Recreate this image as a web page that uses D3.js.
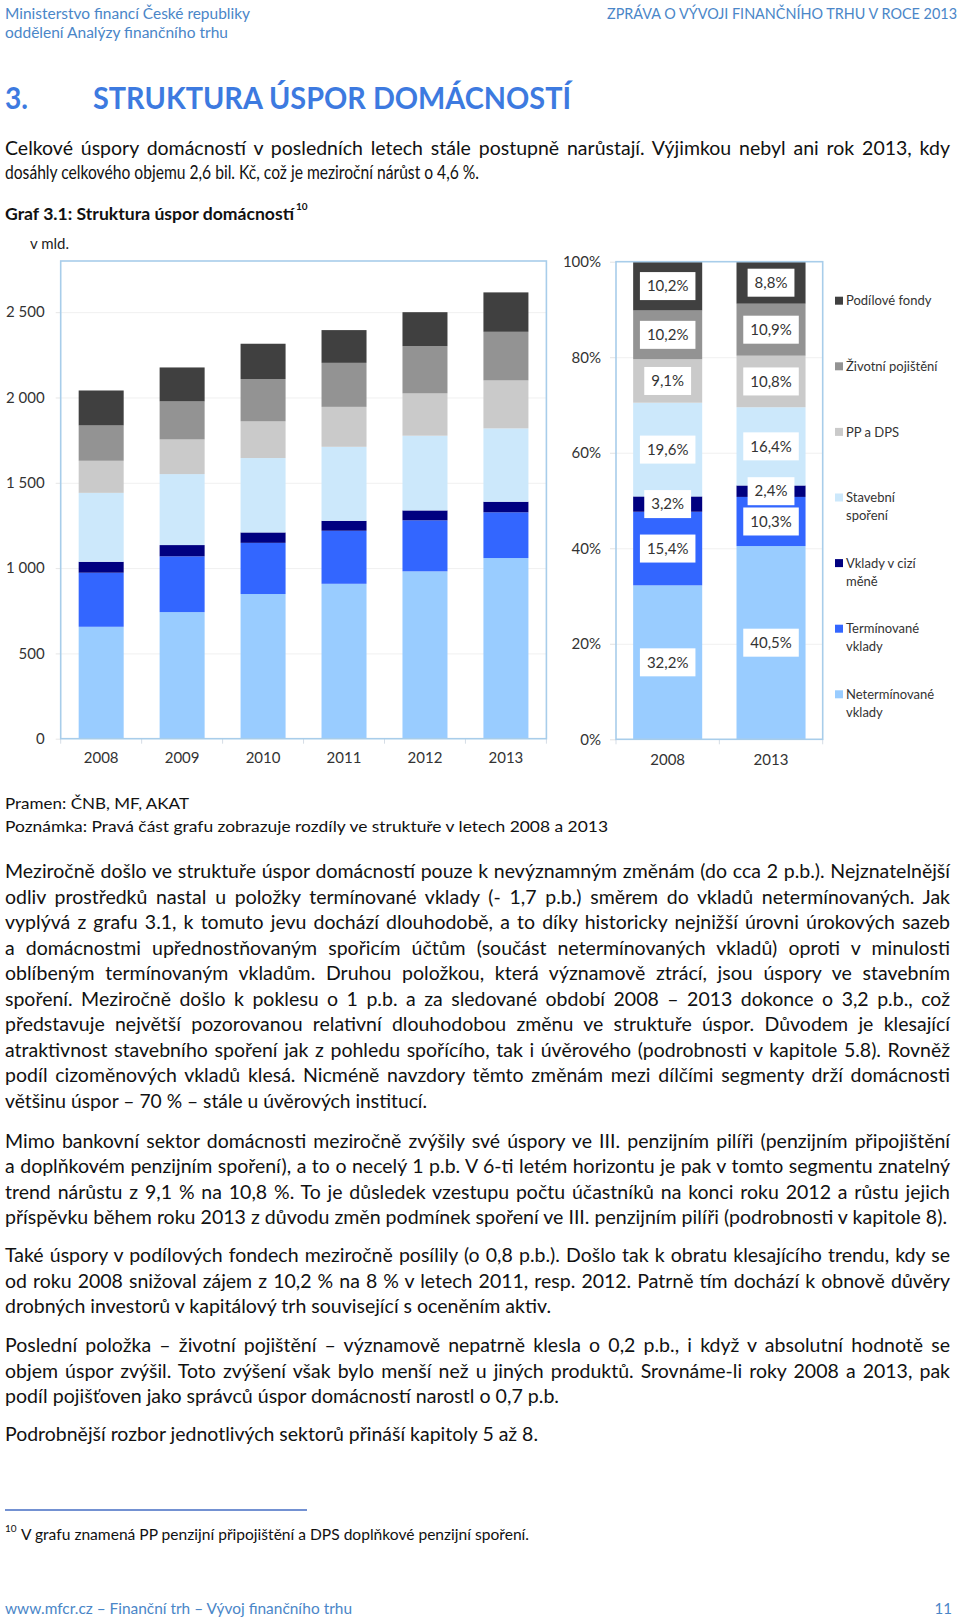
<!DOCTYPE html>
<html><head><meta charset="utf-8">
<script src="https://cdn.jsdelivr.net/npm/d3@7"></script>
<style>body{margin:0;background:#fff}svg{display:block}</style>
</head><body><svg id="page" width="960" height="1621"></svg>
<script>
// ---------- DATA ----------
const years = ["2008","2009","2010","2011","2012","2013"];
const seriesKeys = ["Netermínované vklady","Termínované vklady","Vklady v cizí měně","Stavební spoření","PP a DPS","Životní pojištění","Podílové fondy"];
const netermVklady = [656, 742, 848, 908, 981, 1059];
const terminVklady = [317, 327, 300, 311, 299, 268];
const ciziMena     = [64, 66, 61, 58, 58, 62];
const stavebni     = [404, 416, 436, 434, 438, 430];
const ppDps        = [188, 203, 215, 234, 248, 281];
const zivotni      = [207, 223, 248, 258, 277, 285];
const podilove     = [205, 199, 207, 192, 199, 231];
const shareYears = ["2008","2013"];
const share2008 = [32.2, 15.4, 3.2, 19.6, 9.1, 10.2, 10.2];
const share2013 = [40.5, 10.3, 2.4, 16.4, 10.8, 10.9, 8.8];
const yTicks = [0, 500, 1000, 1500, 2000, 2500];
const pctTicks = [0, 20, 40, 60, 80, 100];
const legendLabels = [["Podílové fondy"],["Životní pojištění"],["PP a DPS"],["Stavební","spoření"],["Vklady v cizí","měně"],["Termínované","vklady"],["Netermínované","vklady"]];
const colors = ["#99ccff","#3366ff","#000080","#cce8fb","#cacaca","#939393","#404040"];

const headerLeft = ["Ministerstvo financí České republiky","oddělení Analýzy finančního trhu"];
const headerRight = "ZPRÁVA O VÝVOJI FINANČNÍHO TRHU V ROCE 2013";
const titleNum = "3.";
const titleText = "STRUKTURA ÚSPOR DOMÁCNOSTÍ";
const intro = ["Celkové úspory domácností v posledních letech stále postupně narůstají. Výjimkou nebyl ani rok 2013, kdy",
"dosáhly celkového objemu 2,6 bil. Kč, což je meziroční nárůst o 4,6 %."];
const chartTitle = "Graf 3.1: Struktura úspor domácností";
const unitLabel = "v mld.";
const sourceLines = ["Pramen: ČNB, MF, AKAT","Poznámka: Pravá část grafu zobrazuje rozdíly ve struktuře v letech 2008 a 2013"];
const paragraphs = [
["Meziročně došlo ve struktuře úspor domácností pouze k nevýznamným změnám (do cca 2 p.b.). Nejznatelnější",
"odliv prostředků nastal u položky termínované vklady (- 1,7 p.b.) směrem do vkladů netermínovaných. Jak",
"vyplývá z grafu 3.1, k tomuto jevu dochází dlouhodobě, a to díky historicky nejnižší úrovni úrokových sazeb",
"a domácnostmi upřednostňovaným spořicím účtům (součást netermínovaných vkladů) oproti v minulosti",
"oblíbeným termínovaným vkladům. Druhou položkou, která významově ztrácí, jsou úspory ve stavebním",
"spoření. Meziročně došlo k poklesu o 1 p.b. a za sledované období 2008 – 2013 dokonce o 3,2 p.b., což",
"představuje největší pozorovanou relativní dlouhodobou změnu ve struktuře úspor. Důvodem je klesající",
"atraktivnost stavebního spoření jak z pohledu spořícího, tak i úvěrového (podrobnosti v kapitole 5.8). Rovněž",
"podíl cizoměnových vkladů klesá. Nicméně navzdory těmto změnám mezi dílčími segmenty drží domácnosti",
"většinu úspor – 70 % – stále u úvěrových institucí."],
["Mimo bankovní sektor domácnosti meziročně zvýšily své úspory ve III. penzijním pilíři (penzijním připojištění",
"a doplňkovém penzijním spoření), a to o necelý 1 p.b. V 6-ti letém horizontu je pak v tomto segmentu znatelný",
"trend nárůstu z 9,1 % na 10,8 %. To je důsledek vzestupu počtu účastníků na konci roku 2012 a růstu jejich",
"příspěvku během roku 2013 z důvodu změn podmínek spoření ve III. penzijním pilíři (podrobnosti v kapitole 8)."],
["Také úspory v podílových fondech meziročně posílily (o 0,8 p.b.). Došlo tak k obratu klesajícího trendu, kdy se",
"od roku 2008 snižoval zájem z 10,2 % na 8 % v letech 2011, resp. 2012. Patrně tím dochází k obnově důvěry",
"drobných investorů v kapitálový trh související s oceněním aktiv."],
["Poslední položka – životní pojištění – významově nepatrně klesla o 0,2 p.b., i když v absolutní hodnotě se",
"objem úspor zvýšil. Toto zvýšení však bylo menší než u jiných produktů. Srovnáme-li roky 2008 a 2013, pak",
"podíl pojišťoven jako správců úspor domácností narostl o 0,7 p.b."],
["Podrobnější rozbor jednotlivých sektorů přináší kapitoly 5 až 8."]
];
const footnoteMark = "10";
const footnoteText = "V grafu znamená PP penzijní připojištění a DPS doplňkové penzijní spoření.";
const footerLeft = "www.mfcr.cz – Finanční trh – Vývoj finančního trhu";
const footerRight = "11";

// ---------- PAGE ----------
const svg = d3.select("#page");
svg.append("rect").attr("width",960).attr("height",1621).attr("fill","#fff");
const FONT = "Lato, 'Open Sans', sans-serif";

function txt(s, x, cy, fs, o = {}) {
  const t = svg.append("text")
    .attr("x", x).attr("y", cy + fs * 0.35)
    .attr("font-family", FONT).attr("font-size", fs)
    .attr("font-weight", o.weight || "normal")
    .attr("fill", o.fill || "#111")
    .attr("text-anchor", o.anchor || "start")
    .text(s);
  if (o.w) t.attr("textLength", o.w).attr("lengthAdjust", "spacingAndGlyphs");
  return t;
}
// justified line: word spacing fills the measure; compress only if too long
function just(s, x, cy, fs, width) {
  const t = txt(s, x, cy, fs);
  const w = t.node().getComputedTextLength();
  const n = (s.match(/ /g) || []).length;
  if (w < width && n > 0) t.attr("word-spacing", (width - w) / n);
  else if (w > width) t.attr("textLength", width).attr("lengthAdjust", "spacingAndGlyphs");
  return t;
}

const headBlue = "#4a86c8";
txt(headerLeft[0], 5, 13.5, 14.5, {fill: headBlue, w: 245});
txt(headerLeft[1], 5, 33, 14.5, {fill: headBlue, w: 223});
txt(headerRight, 957, 13.5, 14.5, {fill: headBlue, anchor: "end", w: 350});

const titleBlue = "#3d7ae0";
txt(titleNum, 5, 98, 31, {fill: titleBlue, weight: "bold", w: 23});
txt(titleText, 93, 98, 31, {fill: titleBlue, weight: "bold", w: 478});

const JW = 945; // justified width
const BFS = 19.5;
just(intro[0], 5, 147.8, BFS, JW);
txt(intro[1], 5, 172.6, BFS, {w: 474});

txt(chartTitle, 5, 214, 17, {weight: "bold", w: 289});
txt(footnoteMark, 296, 206, 10, {weight: "bold"});
txt(unitLabel, 30, 244, 15, {fill: "#222"});

txt(sourceLines[0], 5, 803, 16, {w: 184});
txt(sourceLines[1], 5, 826.7, 16, {w: 603});

// paragraphs
const paraStarts = [871.2, 1140.9, 1255.6, 1345.5, 1434.4];
const lastWidths = [422, 942, 546, 554, 533];
paragraphs.forEach((p, pi) => {
  p.forEach((l, li) => {
    const last = li === p.length - 1;
    const cy = paraStarts[pi] + li * 25.5;
    if (last) txt(l, 5, cy, BFS, {w: lastWidths[pi]});
    else just(l, 5, cy, BFS, JW);
  });
});

svg.append("line").attr("x1",5).attr("x2",307).attr("y1",1510).attr("y2",1510)
  .attr("stroke","#7391d2").attr("stroke-width",2);
txt(footnoteMark, 5, 1528, 10);
txt(footnoteText, 21, 1534.6, 15, {w: 508});
txt(footerLeft, 5, 1609, 15, {fill: headBlue, w: 347});
txt(footerRight, 952, 1609, 15, {fill: headBlue, anchor: "end"});

// ---------- LEFT CHART ----------
const fmt = d3.formatLocale({decimal: ",", thousands: " ", grouping: [3], currency: ["", ""]}).format(",");
const seriesArrays = [netermVklady, terminVklady, ciziMena, stavebni, ppDps, zivotni, podilove];
const table = years.map((yr, i) => {
  const row = {year: yr};
  seriesKeys.forEach((k, j) => row[k] = seriesArrays[j][i]);
  return row;
});
const L = {l: 60.7, r: 546.4, t: 261, b: 738.7};
const x = d3.scaleBand().domain(years).range([L.l, L.r]).paddingInner(0.444).paddingOuter(0.222);
const y = d3.scaleLinear().domain([0, 2800]).range([L.b, L.t]);
const gL = svg.append("g");
gL.append("g").attr("transform", `translate(${L.l},0)`)
  .call(d3.axisLeft(y).tickValues(yTicks.slice(1)).tickSize(-(L.r - L.l)).tickFormat(""))
  .call(g => g.select(".domain").remove())
  .call(g => g.selectAll("line").attr("stroke", "#f0f0f0"));
const stack = d3.stack().keys(seriesKeys)(table);
gL.selectAll("g.s").data(stack).join("g").attr("class","s")
  .attr("fill", (d, i) => colors[i])
  .selectAll("rect").data(d => d).join("rect")
  .attr("x", d => x(d.data.year)).attr("width", x.bandwidth())
  .attr("y", d => y(d[1])).attr("height", d => y(d[0]) - y(d[1]));
gL.append("g").attr("transform", `translate(${L.l},0)`)
  .call(d3.axisLeft(y).tickValues(yTicks).tickFormat(fmt).tickSize(5).tickPadding(11))
  .call(g => g.select(".domain").remove())
  .call(g => g.selectAll("line").attr("stroke", "#e6e6e6"))
  .call(g => g.selectAll("text").attr("font-family", FONT).attr("font-size", 15).attr("fill", "#333"));
gL.append("g").attr("transform", `translate(0,${L.b})`)
  .call(d3.axisBottom(x).tickSize(0).tickPadding(14))
  .call(g => g.select(".domain").remove())
  .call(g => g.selectAll("text").attr("font-family", FONT).attr("font-size", 15).attr("fill", "#333"));
gL.selectAll("line.ct").data(d3.range(years.length + 1)).join("line").attr("class","ct")
  .attr("x1", i => L.l + i * x.step()).attr("x2", i => L.l + i * x.step())
  .attr("y1", L.b).attr("y2", L.b + 5).attr("stroke", "#d5dde6");
gL.append("rect").attr("x", L.l).attr("y", L.t).attr("width", L.r - L.l).attr("height", L.b - L.t)
  .attr("fill", "none").attr("stroke", "#a8cdea").attr("stroke-width", 1.6);

// ---------- RIGHT CHART ----------
const R = {l: 616, r: 822.7, t: 261.7, b: 739.3};
const shareArrays = [share2008, share2013];
const table2 = shareYears.map((yr, i) => {
  const row = {year: yr};
  seriesKeys.forEach((k, j) => row[k] = shareArrays[i][j]);
  return row;
});
const x2 = d3.scaleBand().domain(shareYears).range([R.l, R.r]).paddingInner(0.332).paddingOuter(0.166);
const y2 = d3.scaleLinear().domain([0, 1]).range([R.b, R.t]);
const gR = svg.append("g");
gR.append("g").attr("transform", `translate(${R.l},0)`)
  .call(d3.axisLeft(y2).tickValues(pctTicks.slice(1, -1).map(v => v / 100)).tickSize(-(R.r - R.l)).tickFormat(""))
  .call(g => g.select(".domain").remove())
  .call(g => g.selectAll("line").attr("stroke", "#f0f0f0"));
const stack2 = d3.stack().keys(seriesKeys).offset(d3.stackOffsetExpand)(table2);
gR.selectAll("g.s").data(stack2).join("g").attr("class","s")
  .attr("fill", (d, i) => colors[i])
  .selectAll("rect").data(d => d).join("rect")
  .attr("x", d => x2(d.data.year)).attr("width", x2.bandwidth())
  .attr("y", d => y2(d[1])).attr("height", d => y2(d[0]) - y2(d[1]));
const pf = v => d3.format(".1f")(v).replace(".", ",") + "%";
stack2.forEach(s => {
  s.forEach(d => {
    const cx = x2(d.data.year) + x2.bandwidth() / 2;
    const cy = (y2(d[0]) + y2(d[1])) / 2;
    const g = gR.append("g");
    const t = g.append("text").attr("x", cx).attr("y", cy + 5.3)
      .attr("text-anchor", "middle").attr("font-family", FONT).attr("font-size", 15).attr("fill", "#333")
      .text(pf(d.data[s.key]));
    const w = t.node().getComputedTextLength();
    g.insert("rect", "text").attr("x", cx - w / 2 - 7).attr("y", cy - 14)
      .attr("width", w + 14).attr("height", 28).attr("fill", "#fff");
  });
});
gR.append("g").attr("transform", `translate(${R.l},0)`)
  .call(d3.axisLeft(y2).tickValues(pctTicks.map(v => v / 100)).tickFormat(v => Math.round(v * 100) + "%").tickSize(6).tickPadding(9))
  .call(g => g.select(".domain").remove())
  .call(g => g.selectAll("line").attr("stroke", "#e2e2e2"))
  .call(g => g.selectAll("text").attr("font-family", FONT).attr("font-size", 15).attr("fill", "#333"));
gR.append("g").attr("transform", `translate(0,${R.b})`)
  .call(d3.axisBottom(x2).tickSize(0).tickPadding(15))
  .call(g => g.select(".domain").remove())
  .call(g => g.selectAll("text").attr("font-family", FONT).attr("font-size", 15).attr("fill", "#333"));
gR.selectAll("line.ct").data(d3.range(shareYears.length + 1)).join("line").attr("class","ct")
  .attr("x1", i => R.l + i * x2.step()).attr("x2", i => R.l + i * x2.step())
  .attr("y1", R.b).attr("y2", R.b + 5).attr("stroke", "#d5dde6");
gR.append("rect").attr("x", R.l).attr("y", R.t).attr("width", R.r - R.l).attr("height", R.b - R.t)
  .attr("fill", "none").attr("stroke", "#a8cdea").attr("stroke-width", 1.6);

// legend
const legColors = colors.slice().reverse();
const gLeg = svg.append("g");
legendLabels.forEach((lines, i) => {
  const cy = 300.7 + i * 65.6;
  gLeg.append("rect").attr("x", 835).attr("y", cy - 4).attr("width", 8).attr("height", 8).attr("fill", legColors[i]);
  lines.forEach((ln, k) => {
    gLeg.append("text").attr("x", 846).attr("y", cy + k * 17.8 + 4.6)
      .attr("font-family", FONT).attr("font-size", 13).attr("fill", "#333").text(ln);
  });
});
</script></body></html>
